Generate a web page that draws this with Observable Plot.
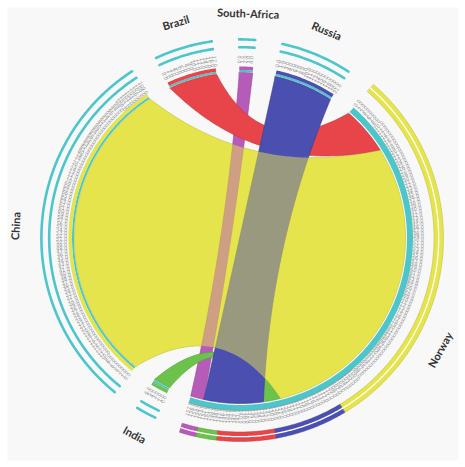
<!DOCTYPE html>
<html><head><meta charset="utf-8">
<script src="https://cdn.jsdelivr.net/npm/d3@7"></script>
<script src="https://cdn.jsdelivr.net/npm/@observablehq/plot@0.6"></script>
<style>body{margin:0;background:#fff;} #chart svg{display:block}</style>
</head><body><div id="chart"></div>
<script>
// ---- data ----
const segments = ["Brazil", "South-Africa", "Russia", "Norway", "India", "China"];
const segmentColors = ["#e8454b", "#b65bb8", "#4a4fb0", "#4cc6cb", "#6cc24a", "#e5e44c"];
const sources = ["China", "Russia", "Brazil", "India", "South-Africa"];
const sourceValues = [109, 21, 17, 6, 4.7];
const target = "Norway";
const targetEndOrder = ["Brazil", "China", "India", "Russia", "South-Africa"];
const drawOrder = ["China", "South-Africa", "Brazil", "India", "Russia"];
const tickStep = 1;

// ---- layout ----
const W = 465, H = 467, CX = 239.5, CY = 237.5;
const R0 = 165.5, GAP = 7.9, START = -25, LAMBDA = 0.52;
const colorOf = s => segmentColors[segments.indexOf(s)];
const valueOf = s => s === target ? d3.sum(sourceValues) : sourceValues[sources.indexOf(s)];
const total = d3.sum(segments, valueOf);
const k = (360 - GAP * segments.length) / total;
const range = {};
{ let a = START; for (const s of segments) { const v = valueOf(s); range[s] = [a, a + v * k]; a += v * k + GAP; } }
const endRange = {};
{ let a = range[target][0]; for (const s of targetEndOrder) { const v = valueOf(s) * k; endRange[s] = [a, a + v]; a += v; } }
const compRange = {};
{ let a = range[target][0]; for (const s of d3.sort(sources, s => -valueOf(s))) { const v = valueOf(s) * k; compRange[s] = [a, a + v]; a += v; } }

const rad = d => d * Math.PI / 180;
const P = (a, r) => ({x: CX + r * Math.sin(rad(a)), y: CY - r * Math.cos(rad(a))});
function arcPts(a0, a1, r) {
  const n = Math.max(2, Math.ceil(Math.abs(a1 - a0) / 0.5));
  return d3.range(n + 1).map(i => P(a0 + (a1 - a0) * i / n, r));
}
function bez(aF, aT) {
  const p = P(aF, R0), q = P(aT, R0);
  const c = {x: CX + LAMBDA * ((p.x + q.x) / 2 - CX), y: CY + LAMBDA * ((p.y + q.y) / 2 - CY)};
  return d3.range(1, 60).map(i => { const t = i / 60, m = 1 - t;
    return {x: m*m*p.x + 2*m*t*c.x + t*t*q.x, y: m*m*p.y + 2*m*t*c.y + t*t*q.y}; });
}
function annulus(a0, a1, r1, r2) { return [...arcPts(a0, a1, r2), ...arcPts(a1, a0, r1)]; }
const darker = c => d3.color(c).darker(0.6).formatHex();

// ribbons
const ribbons = [];
for (const s of drawOrder) {
  const [a0, a1] = range[s], [b0, b1] = endRange[s];
  const pts = [...arcPts(a0, a1, R0), ...bez(a1, b0), ...arcPts(b0, b1, R0), ...bez(b1, a0)];
  for (const p of pts) ribbons.push({...p, id: s, fill: colorOf(s), stroke: darker(colorOf(s))});
}
const blendOver = ["China"];
const ribbons2 = ribbons.filter(d => blendOver.includes(d.id));

// inner bands
const bands = [];
for (const s of segments) {
  const [a0, a1] = range[s];
  if (s === target) {
    for (const p of annulus(a0, a1, 167, 173)) bands.push({...p, id: s + "b", fill: colorOf(s)});
  } else {
    for (const p of annulus(a0, a1, 166, 168)) bands.push({...p, id: s + "t", fill: colorOf(target)});
    for (const p of annulus(a0, a1, 168, 171.5)) bands.push({...p, id: s + "o", fill: colorOf(s)});
  }
}
// outer rings
const ringBands = [];
for (const s of sources) {
  const [a0, a1] = compRange[s];
  for (const p of annulus(a0, a1, 194, 203.5)) ringBands.push({...p, id: s, fill: colorOf(s), stroke: darker(colorOf(s))});
}
const ringLines = [];
for (const s of segments) {
  const [a0, a1] = range[s];
  if (s === target) {
    for (const p of arcPts(a0, a1, 198.7)) ringLines.push({...p, id: s + "w", stroke: "#ffffff", w: 1.3});
  } else {
    for (const p of arcPts(a0, a1, 190.8)) ringLines.push({...p, id: s + "1", stroke: colorOf(target), w: 2.6});
    for (const p of arcPts(a0, a1, 198.6)) ringLines.push({...p, id: s + "2", stroke: colorOf(target), w: 2.6});
  }
}
// tick labels
const ticks = [];
for (const s of segments) {
  const [a0] = range[s], v = valueOf(s);
  for (let i = 0; i <= v / tickStep + 1e-9; i++) {
    const a = a0 + i * tickStep * k, p = P(a, 178.5);
    const an = ((a % 360) + 360) % 360;
    ticks.push({...p, text: d3.format(".1f")(i * tickStep), rotate: an <= 180 ? an - 90 : an - 270});
  }
}
// segment labels
const labels = segments.map(s => {
  const [a0, a1] = range[s], a = (a0 + a1) / 2, an = ((a % 360) + 360) % 360;
  const p = P(a, s === target ? 230 : 224);
  return {...p, text: s, rotate: an > 90 && an < 270 ? an - 180 : (an > 180 ? an - 360 : an)};
});

const chart = Plot.plot({
  width: W, height: H, margin: 0,
  x: {domain: [0, W], axis: null}, y: {domain: [0, H], reverse: true, axis: null},
  marks: [
    Plot.frame({fill: "#f8f8f8", stroke: "none", insetTop: 7, insetLeft: 7, insetRight: 7, insetBottom: 7}),
    Plot.line(ribbons, {x: "x", y: "y", z: "id", fill: "fill", stroke: "stroke", strokeWidth: 0.6, curve: "linear-closed"}),
    Plot.line(ribbons2, {x: "x", y: "y", z: "id", fill: "fill", fillOpacity: 0.5, stroke: "none", curve: "linear-closed"}),
    Plot.line(bands, {x: "x", y: "y", z: "id", fill: "fill", stroke: "none", curve: "linear-closed"}),
    Plot.line(ringBands, {x: "x", y: "y", z: "id", fill: "fill", stroke: "stroke", strokeWidth: 0.5, curve: "linear-closed"}),
    Plot.line(ringLines, {x: "x", y: "y", z: "id", stroke: "stroke", strokeWidth: "w"}),
    Plot.text(ticks, {x: "x", y: "y", text: "text", rotate: "rotate", fontSize: 5, fill: "#9a9a9a", fontFamily: "DejaVu Sans"}),
    Plot.text(labels, {x: "x", y: "y", text: "text", rotate: "rotate", fontSize: 11, fontWeight: "bold", fill: "#333", fontFamily: "Lato"})
  ]
});
document.getElementById("chart").append(chart);
</script>
</body></html>
